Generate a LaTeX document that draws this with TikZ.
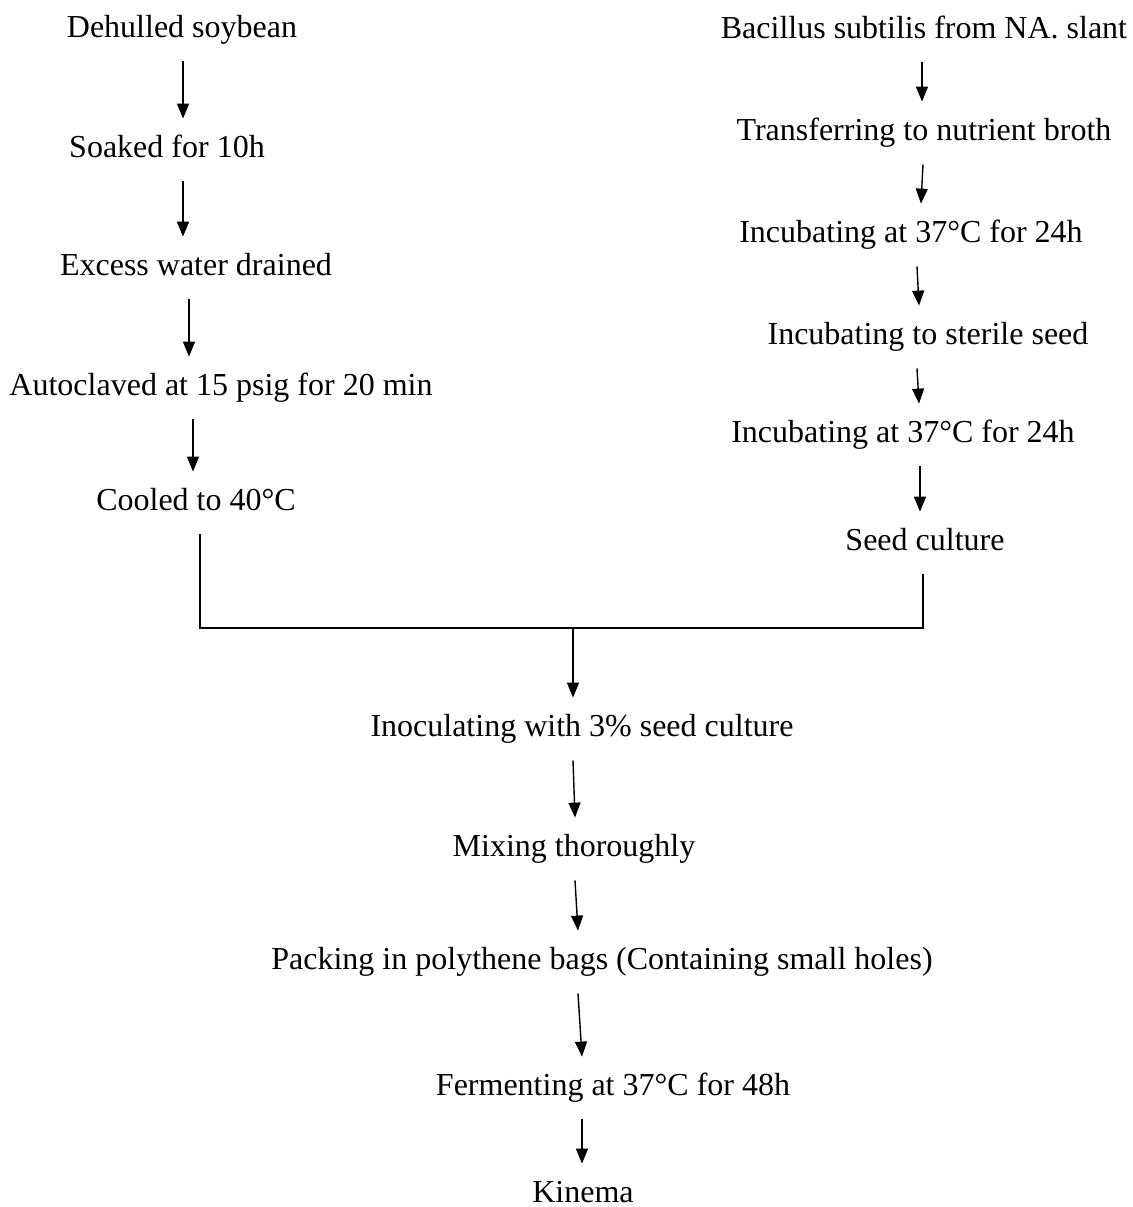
\documentclass[tikz,border=0pt]{standalone}
\usepackage{fontspec}
\setmainfont{Liberation Serif}
\usetikzlibrary{arrows.meta}
\begin{document}
\begin{tikzpicture}[x=0.5pt,y=-0.5pt,
  stage/.style={anchor=base,font=\fontsize{16}{19}\selectfont,text height=11pt,text depth=4pt,inner xsep=0pt,inner ysep=8pt},
  flow/.style={line width=0.7pt,-{Triangle[length=7.5pt,width=6pt]}}]
\useasboundingbox (0,0) rectangle (1133,1207);
% soybean side
\node[stage] (soy) at (182,37) {Dehulled soybean};
\node[stage] (soak) at (167,157) {Soaked for 10h};
\node[stage] (drain) at (196,275) {Excess water drained};
\node[stage] (autoclave) at (221,395) {Autoclaved at 15 psig for 20 min};
\node[stage] (cool) at (196,510) {Cooled to 40°C};
\draw[flow] ([xshift=0.5pt]soy.south) -- ([xshift=8pt]soak.north);
\draw[flow] ([xshift=8pt]soak.south) -- ([xshift=-6.5pt]drain.north);
\draw[flow] ([xshift=-3.5pt]drain.south) -- ([xshift=-16pt]autoclave.north);
\draw[flow] ([xshift=-14pt]autoclave.south) -- ([xshift=-1.5pt]cool.north);
% culture side
\node[stage] (bac) at (924,38) {Bacillus subtilis from NA. slant};
\node[stage] (broth) at (924,140) {Transferring to nutrient broth};
\node[stage] (incA) at (911,242) {Incubating at 37°C for 24h};
\node[stage] (sterile) at (928,344) {Incubating to sterile seed};
\node[stage] (incB) at (903,442) {Incubating at 37°C for 24h};
\node[stage] (seed) at (925,550) {Seed culture};
\draw[flow] ([xshift=-1pt]bac.south) -- ([xshift=-1pt]broth.north);
\draw[flow] ([xshift=-0.5pt]broth.south) -- ([xshift=5pt]incA.north);
\draw[flow] ([xshift=3pt]incA.south) -- ([xshift=-4.5pt]sterile.north);
\draw[flow] ([xshift=-5.5pt]sterile.south) -- ([xshift=8pt]incB.north);
\draw[flow] ([xshift=8.5pt]incB.south) -- ([xshift=-2.5pt]seed.north);
% joining
\node[stage] (inoc) at (582,736) {Inoculating with 3\% seed culture};
\coordinate (cl) at ([xshift=2pt]cool.south);
\coordinate (sr) at ([xshift=-1pt]seed.south);
\coordinate (mid) at (573,628);
\draw[line width=0.7pt] (cl) |- (mid) -| (sr);
\draw[flow] (mid) -- ([xshift=-4.5pt]inoc.north);
% kinema steps
\node[stage] (mix) at (574,856) {Mixing thoroughly};
\node[stage] (pack) at (602,969) {Packing in polythene bags (Containing small holes)};
\node[stage] (ferment) at (613,1095) {Fermenting at 37°C for 48h};
\node[stage] (kinema) at (583,1202) {Kinema};
\draw[flow] ([xshift=-4.5pt]inoc.south) -- ([xshift=0.5pt]mix.north);
\draw[flow] ([xshift=0.5pt]mix.south) -- ([xshift=-12pt]pack.north);
\draw[flow] ([xshift=-12pt]pack.south) -- ([xshift=-15.5pt]ferment.north);
\draw[flow] ([xshift=-15.5pt]ferment.south) -- ([xshift=-0.5pt]kinema.north);
\end{tikzpicture}
\end{document}
